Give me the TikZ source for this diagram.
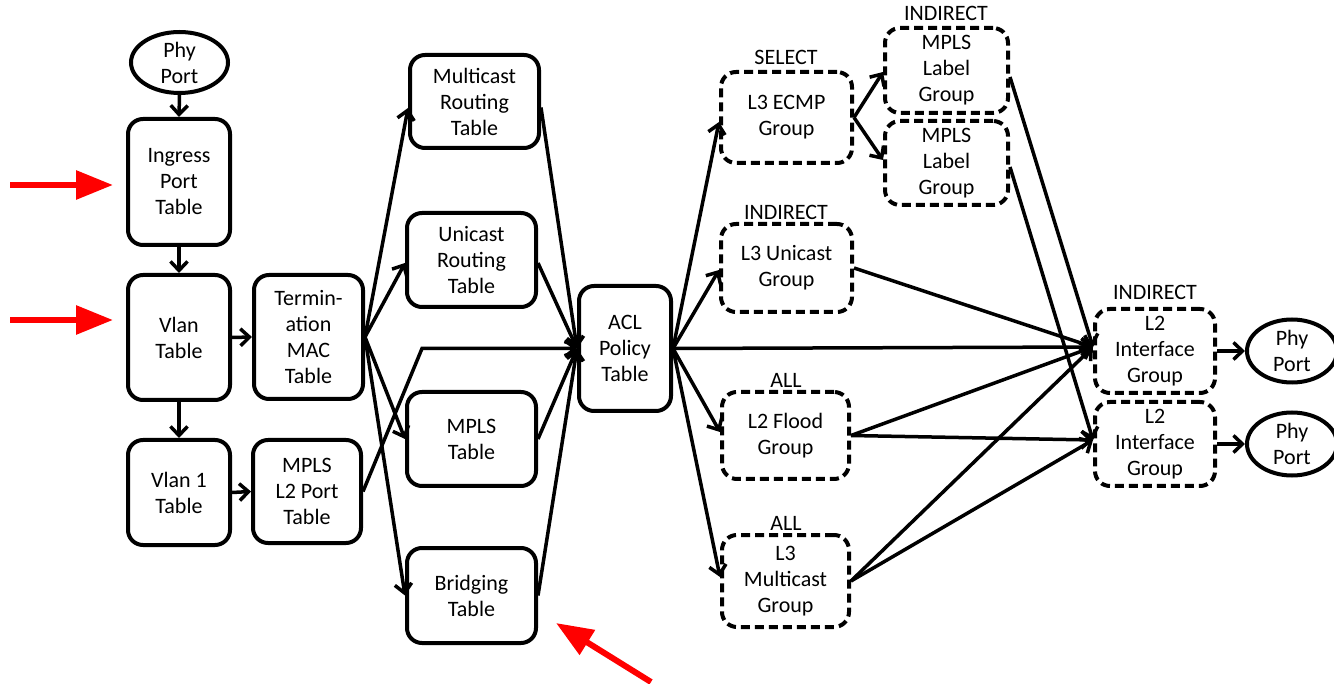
\documentclass[tikz,border=0pt]{standalone}
\usepackage{fontspec}
\setmainfont{Carlito}
\usetikzlibrary{arrows.meta,shapes.geometric}
\begin{document}
\begin{tikzpicture}[x=1pt,y=-1pt,
  txt/.style={font=\fontsize{22}{26}\selectfont, align=center},
  tbl/.style={txt, draw, line width=4pt, rounded corners=15pt, inner sep=0pt},
  grp/.style={tbl, dash pattern=on 9pt off 5pt},
  port/.style={txt, draw, ellipse, line width=4pt, inner sep=0pt},
  kind/.style={txt, anchor=base},
  flow/.style={line width=3.5pt, -{Straight Barb[length=9pt,width=17pt]}},
  hint/.style={draw=red, fill=red, line width=6pt, -{Triangle[length=37pt,width=28pt]}}
]
\clip (0,0) rectangle (1334,684);

% ingress pipeline
\node[port, minimum width=97pt, minimum height=61pt] (pp0) at (179.5,62.5) {Phy\\Port};
\node[tbl, minimum width=102pt, minimum height=126pt] (ingress) at (179,182) {Ingress\\Port\\Table};
\node[tbl, minimum width=102pt, minimum height=125pt] (vlan) at (179,337.5) {Vlan\\Table};
\node[tbl, minimum width=102pt, minimum height=105pt] (vlan1) at (179,492.5) {Vlan 1\\Table};
\node[tbl, minimum width=109pt, minimum height=124pt] (term) at (308.5,337) {Termin-\\ation\\MAC\\Table};
\node[tbl, minimum width=108pt, minimum height=103pt] (mplsl2) at (307,491.5) {MPLS\\L2 Port\\Table};

% forwarding tables
\node[tbl, minimum width=129pt, minimum height=93pt] (mcast) at (474.5,101.5) {Multicast\\Routing\\Table};
\node[tbl, minimum width=129pt, minimum height=94pt] (ucast) at (471.5,260) {Unicast\\Routing\\Table};
\node[tbl, minimum width=129pt, minimum height=94pt] (mplst) at (471.5,439) {MPLS\\Table};
\node[tbl, minimum width=129pt, minimum height=95pt] (bridge) at (471.5,595.5) {Bridging\\Table};
\node[tbl, minimum width=92pt, minimum height=125pt] (acl) at (625,348.5) {ACL\\Policy\\Table};

% group tables
\node[grp, minimum width=131pt, minimum height=91pt] (ecmp) at (786.5,117.5) {L3 ECMP\\Group};
\node[grp, minimum width=123pt, minimum height=85pt] (mlg1) at (946.5,70.5) {MPLS\\Label\\Group};
\node[grp, minimum width=123pt, minimum height=84pt] (mlg2) at (946.5,163) {MPLS\\Label\\Group};
\node[grp, minimum width=131pt, minimum height=88pt] (l3u) at (786.5,268) {L3 Unicast\\Group};
\node[grp, minimum width=127pt, minimum height=87pt] (l2f) at (785.5,435.5) {L2 Flood\\Group};
\node[grp, minimum width=127pt, minimum height=92pt] (l3m) at (785.5,581) {L3\\Multicast\\Group};
\node[grp, minimum width=120pt, minimum height=84pt] (l2i1) at (1155,351) {L2\\Interface\\Group};
\node[grp, minimum width=120pt, minimum height=84pt] (l2i2) at (1155,444) {L2\\Interface\\Group};
\node[port, minimum width=90pt, minimum height=63pt] (pp1) at (1292,351) {Phy\\Port};
\node[port, minimum width=90pt, minimum height=63pt] (pp2) at (1292,444) {Phy\\Port};

% group types
\node[kind] (kecmp) at (786,65) {SELECT};
\node[kind] (kmlg) at (946,21) {INDIRECT};
\node[kind] (kl3u) at (786,220) {INDIRECT};
\node[kind] (kl2f) at (786,388) {ALL};
\node[kind] (kl3m) at (786,530) {ALL};
\node[kind] (kl2i) at (1155,300) {INDIRECT};

% ingress connectors
\draw[flow] (pp0.south) -- (ingress.north);
\draw[flow] (ingress.south) -- (vlan.north);
\draw[flow] (vlan.south) -- (vlan1.north);
\draw[flow] (vlan.east) -- (term.west);
\draw[flow] (vlan1.east) -- (mplsl2.west);

% termination MAC fan-out
\draw[flow] (term.east) -- ([yshift=-6.5pt]mcast.west);
\draw[flow] (term.east) -- ([yshift=-3pt]ucast.west);
\draw[flow] (term.east) -- (mplst.west);
\draw[flow] (term.east) -- (bridge.west);

% into the ACL policy table
\coordinate (knee) at (422,348.5);
\draw[flow] (mplsl2.east) -- (knee) -- (acl.west);
\draw[flow] ([yshift=-6pt]mcast.east) -- (acl.west);
\draw[flow] ([yshift=-3pt]ucast.east) -- (acl.west);
\draw[flow] (mplst.east) -- (acl.west);
\draw[flow] (bridge.east) -- (acl.west);

% ACL fan-out
\draw[flow] (acl.east) -- ([yshift=-4.5pt]ecmp.west);
\draw[flow] (acl.east) -- ([yshift=-2pt]l3u.west);
\draw[flow] (acl.east) -- ([yshift=4pt]l2i1.west);
\draw[flow] (acl.east) -- ([yshift=3.5pt]l2f.west);
\draw[flow] (acl.east) -- ([yshift=4pt]l3m.west);

% group chaining
\draw[flow] (ecmp.east) -- ([yshift=-1.5pt]mlg1.west);
\draw[flow] (ecmp.east) -- ([yshift=3pt]mlg2.west);
\draw[flow] ([yshift=-6.5pt]mlg1.east) -- ([yshift=4pt]l2i1.west);
\draw[flow] ([yshift=-4pt]mlg2.east) -- ([yshift=4pt]l2i2.west);
\draw[flow] (l3u.east) -- ([yshift=4pt]l2i1.west);
\draw[flow] (l2f.east) -- ([yshift=4pt]l2i1.west);
\draw[flow] (l2f.east) -- ([yshift=4pt]l2i2.west);
\draw[flow] (l3m.east) -- ([yshift=4pt]l2i1.west);
\draw[flow] (l3m.east) -- ([yshift=4pt]l2i2.west);
\draw[flow] (l2i1.east) -- (pp1.west);
\draw[flow] (l2i2.east) -- (pp2.west);

% highlight arrows
\coordinate (h1a) at (10,185);
\coordinate (h1b) at (113,185);
\coordinate (h2a) at (10,320);
\coordinate (h2b) at (113,320);
\coordinate (h3a) at (651,682);
\coordinate (h3b) at (556,623);
\draw[hint] (h1a) -- (h1b);
\draw[hint] (h2a) -- (h2b);
\draw[hint] (h3a) -- (h3b);
\end{tikzpicture}
\end{document}
